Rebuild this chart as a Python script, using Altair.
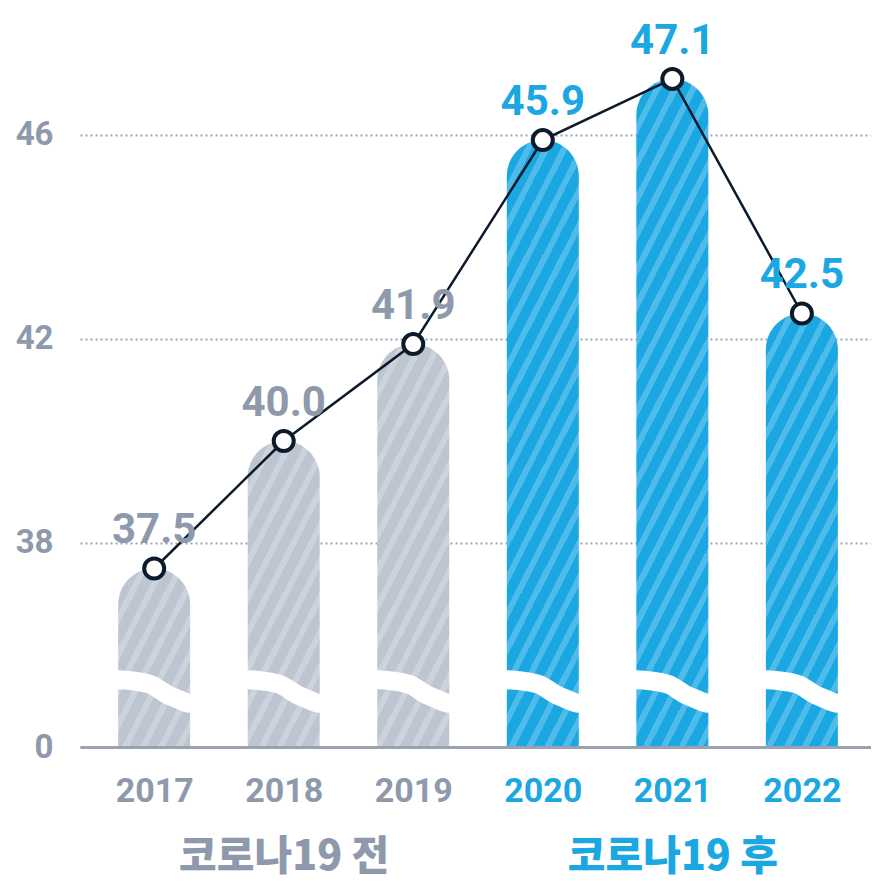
import math
import altair as alt
import pandas as pd

# ---------------- data ----------------
years = [2017, 2018, 2019, 2020, 2021, 2022]
values = [37.5, 40.0, 41.9, 45.9, 47.1, 42.5]
periods = ["before", "before", "before", "after", "after", "after"]

# broken y axis: the bottom of the axis (34 on the linear scale) is labelled "0"
y_ticks = [34, 38, 42, 46]
y_tick_labels = ["0", "38", "42", "46"]

group_years = [2018, 2021]
group_labels = ["코로나19 전", "코로나19 후"]

# axis-break wave (offset from bar centre in years, level on the y scale)
break_dx = [-0.32, -0.274, -0.152, -0.023, 0.107, 0.183, 0.274, 0.32]
break_y = [35.32, 35.32, 35.29, 35.22, 35.02, 34.94, 34.86, 34.86]

# ---------------- style ----------------
GRAY_TEXT = "#8e9aab"
GRAY_BAR = "#bdc5d0"
GRAY_STRIPE = "#cdd3dc"
BLUE = "#1aa7e2"
BLUE_STRIPE = "#4fbbea"
NAVY = "#0c1b2c"
GRID = "#9aa3b0"
NUMF = "Roboto, Liberation Sans, sans-serif"
KR = "Noto Sans CJK KR, sans-serif"

Y0, Y_MAX = 34, 48.49
X_MIN, X_MAX = 2016.466, 2022.495
PLOT_W, PLOT_H = 791, 739
BAR_W = 72

df = pd.DataFrame({"year": years, "value": values, "period": periods})
wave = pd.DataFrame(
    [{"year": y, "x": y + dx, "wy": wy, "i": i}
     for y in years for i, (dx, wy) in enumerate(zip(break_dx, break_y))]
)


def stripe_gradient(value, base, stripe):
    """Diagonal stripes as a linear gradient in the bar's bounding box."""
    W = BAR_W
    H = (value - Y0) * PLOT_H / (Y_MAX - Y0)
    ang = math.radians(63)
    nx, ny = math.sin(ang), math.cos(ang)
    period = 18.0 * nx
    sw = 6.0
    L = nx * W + ny * H
    a, b = nx * W / L, ny * H / L
    k = a * a + b * b
    stops = [{"offset": 0, "color": base}]
    t = 4.0
    while t < L:
        o1 = min(t / L, 1.0)
        o2 = min((t + sw) / L, 1.0)
        stops += [
            {"offset": o1, "color": base},
            {"offset": o1, "color": stripe},
            {"offset": o2, "color": stripe},
            {"offset": o2, "color": base},
        ]
        t += period
    stops.append({"offset": 1, "color": base})
    return {"gradient": "linear", "x1": 0, "y1": 0, "x2": a / k, "y2": b / k, "stops": stops}


xscale = alt.Scale(domain=[X_MIN, X_MAX], nice=False, zero=False)
yscale = alt.Scale(domain=[Y0, Y_MAX], nice=False, zero=False)

label_expr_y = " : ".join(
    [f"datum.value == {v} ? '{l}'" for v, l in zip(y_ticks, y_tick_labels)] + ["datum.label"]
)
y_axis = alt.Axis(
    values=y_ticks, labelExpr=label_expr_y, title=None,
    labelFont=NUMF, labelFontSize=33, labelFontWeight="bold", labelColor=GRAY_TEXT,
    labelPadding=27, ticks=False, tickSize=0, domain=False,
    grid=True, gridColor=GRID, gridDash=[2, 3], gridWidth=2, zindex=0,
)
year_axis = alt.Axis(
    values=years, format="d", title=None, orient="bottom",
    labelFont=NUMF, labelFontSize=34, labelFontWeight="bold",
    labelColor={"condition": {"test": "datum.value >= 2020", "value": BLUE}, "value": GRAY_TEXT},
    labelPadding=27, ticks=False, tickSize=0, domain=True, domainColor="#99a2ae", domainWidth=3,
    grid=False, labelFlush=False, labelOverlap=False, zindex=1,
)
group_expr = " : ".join(
    [f"datum.value == {y} ? '{l}'" for y, l in zip(group_years, group_labels)] + ["''"]
)
group_axis = alt.Axis(
    values=group_years, labelExpr=group_expr, title=None, orient="bottom",
    labelFont=KR, labelFontSize=41, labelFontWeight=900, labelLimit=600,
    labelColor={"condition": {"test": "datum.value >= 2020", "value": BLUE}, "value": GRAY_TEXT},
    labelPadding=90, ticks=False, tickSize=0, domain=False, grid=False,
    labelFlush=False, labelOverlap=False, offset=0,
)

base = alt.Chart(df)

bar_layers = []
for i, (yr, v, p) in enumerate(zip(years, values, periods)):
    col, stp = (GRAY_BAR, GRAY_STRIPE) if p == "before" else (BLUE, BLUE_STRIPE)
    layer = base.transform_filter(alt.datum.year == yr).mark_bar(
        size=BAR_W,
        cornerRadiusTopLeft=BAR_W / 2,
        cornerRadiusTopRight=BAR_W / 2,
        fill=stripe_gradient(v, col, stp),
    ).encode(
        x=alt.X("year:Q", scale=xscale, axis=year_axis if i == 0 else None),
        y=alt.Y("value:Q", scale=yscale, axis=y_axis),
        y2=alt.datum(Y0),
    )
    bar_layers.append(layer)

wave_layer = alt.Chart(wave).mark_line(
    color="white", strokeWidth=19, interpolate="monotone", strokeCap="butt"
).encode(
    x=alt.X("x:Q", scale=xscale, axis=None),
    y=alt.Y("wy:Q", scale=yscale, axis=y_axis),
    detail="year:N",
    order="i:Q",
)

line_layer = base.mark_line(color=NAVY, strokeWidth=2.5).encode(
    x=alt.X("year:Q", scale=xscale, axis=group_axis),
    y=alt.Y("value:Q", scale=yscale, axis=y_axis),
)

point_layer = base.mark_point(
    shape="circle", filled=True, fill="white", stroke=NAVY, strokeWidth=4, size=400, opacity=1
).encode(
    x=alt.X("year:Q", scale=xscale, axis=None),
    y=alt.Y("value:Q", scale=yscale, axis=y_axis),
)

text_layer = base.mark_text(
    dy=-25, baseline="alphabetic", align="center",
    font=NUMF, fontSize=42, fontWeight="bold",
).encode(
    x=alt.X("year:Q", scale=xscale, axis=None),
    y=alt.Y("value:Q", scale=yscale, axis=y_axis),
    text=alt.Text("value:Q", format=".1f"),
    color=alt.Color("period:N", scale=alt.Scale(domain=["before", "after"], range=[GRAY_TEXT, BLUE]), legend=None),
)

chart = alt.layer(
    *bar_layers, wave_layer, line_layer, point_layer, text_layer
).resolve_axis(x="independent").properties(
    width=PLOT_W,
    height=PLOT_H,
    autosize=alt.AutoSizeParams(type="none"),
    padding={"left": 72, "top": 0, "right": 0, "bottom": 134},
).configure_view(stroke=None)

chart.save("out.html", embed_options={"renderer": "svg", "actions": False})
